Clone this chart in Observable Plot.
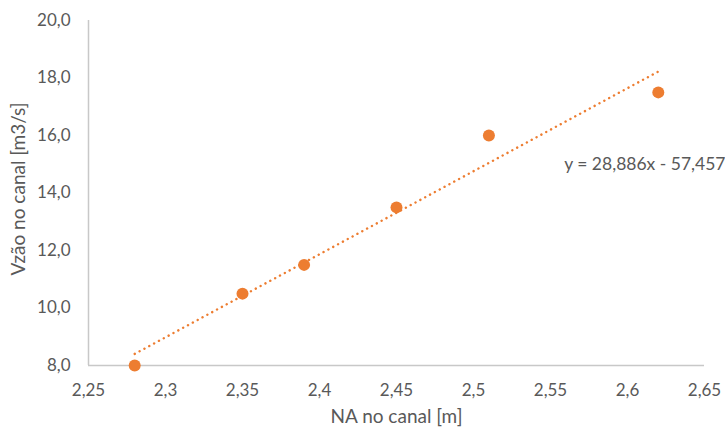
<!DOCTYPE html>
<html>
<head>
<meta charset="utf-8">
<script src="https://cdn.jsdelivr.net/npm/d3@7"></script>
<script src="https://cdn.jsdelivr.net/npm/@observablehq/plot@0.6"></script>
<style>
  html, body { margin: 0; padding: 0; background: #fff; }
  #chart svg { display: block; }
</style>
</head>
<body>
<div id="chart"></div>
<script>
const na = [2.28, 2.35, 2.39, 2.45, 2.51, 2.62];
const vazao = [8.0, 10.5, 11.5, 13.5, 16.0, 17.5];
const slope = 28.886;
const intercept = -57.457;
const equation = "y = 28,886x - 57,457";
const xTicks = [2.25, 2.3, 2.35, 2.4, 2.45, 2.5, 2.55, 2.6, 2.65];
const yTicks = [8, 10, 12, 14, 16, 18, 20];
const xLabel = "NA no canal [m]";
const yLabel = "Vzão no canal [m3/s]";

const points = na.map((x, i) => ({x, y: vazao[i]}));
const xMin = d3.min(na), xMax = d3.max(na);
const trend = [xMin, xMax].map(x => ({x, y: slope * x + intercept}));

const orange = "#ED7D31";
const gray = "#595959";
const font = "Lato, 'Open Sans', sans-serif";

const fmtX = d => String(+d.toFixed(2)).replace(".", ",");
const fmtY = d => d.toFixed(1).replace(".", ",");

const chart = Plot.plot({
  width: 725,
  height: 433,
  marginLeft: 88,
  marginRight: 21,
  marginTop: 20,
  marginBottom: 68,
  style: {fontFamily: font, fontSize: "17px", color: gray, background: "#fff"},
  x: {domain: [2.25, 2.65], ticks: xTicks, tickFormat: fmtX, label: null},
  y: {domain: [8, 20], ticks: yTicks, tickFormat: fmtY, label: null},
  marks: [
    Plot.ruleX([2.25], {stroke: "#c8c8c8", strokeWidth: 1.5}),
    Plot.ruleY([8], {stroke: "#c8c8c8", strokeWidth: 1.5}),
    Plot.axisX({ticks: xTicks, tickFormat: fmtX, tickSize: 0, tickPadding: 18, fill: gray, fontSize: 17, label: null}),
    Plot.axisY({ticks: yTicks, tickFormat: fmtY, tickSize: 0, tickPadding: 18, fill: gray, fontSize: 17, label: null}),
    Plot.text([xLabel], {frameAnchor: "bottom", dy: 57, fill: gray, fontSize: 19, text: d => d}),
    Plot.text([yLabel], {frameAnchor: "left", textAnchor: "middle", dx: -70, dy: -4, rotate: -90, fill: gray, fontSize: 19, text: d => d}),
    Plot.line(trend, {x: "x", y: "y", stroke: orange, strokeWidth: 2.4, strokeDasharray: "0.1,5.4", strokeLinecap: "round"}),
    Plot.dot(points, {x: "x", y: "y", r: 6, fill: orange, stroke: "none"}),
    Plot.text([equation], {frameAnchor: "right", textAnchor: "end", dx: 21, dy: -29, fill: gray, fontSize: 17.5, text: d => d})
  ]
});
document.getElementById("chart").appendChild(chart);
</script>
</body>
</html>
